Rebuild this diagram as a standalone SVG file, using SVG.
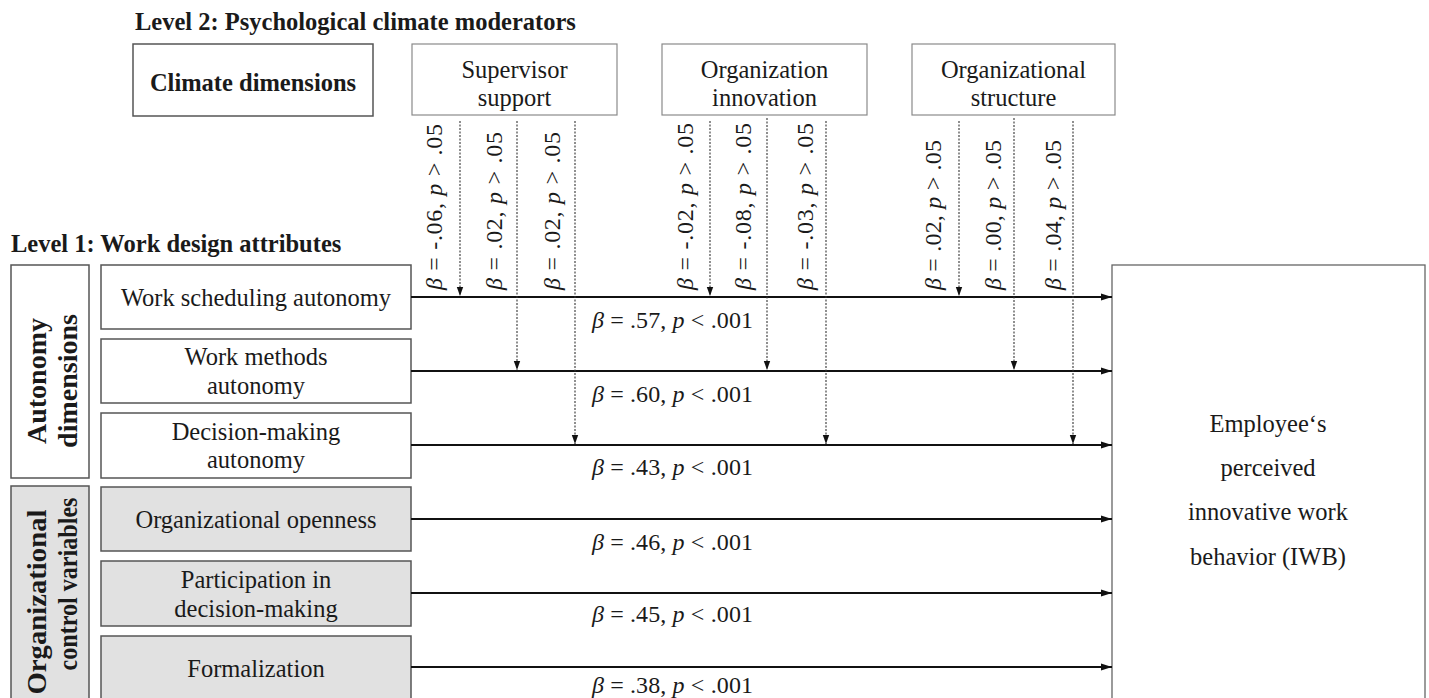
<svg xmlns="http://www.w3.org/2000/svg" width="1429" height="698" viewBox="0 0 1429 698">
<style>
text{font-family:"Liberation Serif","Times New Roman",serif;fill:#1a1a1a}
.h{font-size:24.5px;font-weight:bold}
.t{font-size:24.5px;text-anchor:middle}
.rb{font-size:28px;font-weight:bold;text-anchor:middle}
.b{font-size:24px}
.box{fill:#fff;stroke:#555;stroke-width:1.5}
.gbox{fill:#e1e1e1;stroke:#555;stroke-width:1.5}
.tbox{fill:#fff;stroke:#8a8a8a;stroke-width:1.2}
.main{stroke:#111;stroke-width:2.2;fill:none;marker-end:url(#ah)}
.mod{stroke:#333;stroke-width:1.1;stroke-dasharray:2 1.5;fill:none;marker-end:url(#ahs)}
.it{font-style:italic}
</style>
<defs>
<marker id="ah" markerUnits="userSpaceOnUse" markerWidth="12" markerHeight="8" refX="11" refY="4" orient="auto"><path d="M0,0.5 L11,4 L0,7.5 z" fill="#111"/></marker>
<marker id="ahs" markerUnits="userSpaceOnUse" markerWidth="10" markerHeight="8" refX="9" refY="4" orient="auto"><path d="M0,0.8 L9,4 L0,7.2 z" fill="#111"/></marker>
</defs>
<rect width="1429" height="698" fill="#fff"/>

<text class="h" x="135" y="30">Level 2: Psychological climate moderators</text>
<text class="h" x="11" y="252" font-size="24">Level 1: Work design attributes</text>

<g id="climate-dimensions">
<rect class="box" x="133" y="44" width="240" height="72"/>
<text class="h" x="253" y="91" text-anchor="middle" font-size="25">Climate dimensions</text>
</g>
<g id="supervisor-support">
<rect class="tbox" x="412" y="44" width="205" height="71"/>
<text class="t" x="514.5" y="78">Supervisor</text>
<text class="t" x="514.5" y="106">support</text>
</g>
<g id="organization-innovation">
<rect class="tbox" x="662" y="44" width="205" height="71"/>
<text class="t" x="764.5" y="78">Organization</text>
<text class="t" x="764.5" y="106">innovation</text>
</g>
<g id="organizational-structure">
<rect class="tbox" x="912" y="44" width="203" height="71"/>
<text class="t" x="1013.5" y="78">Organizational</text>
<text class="t" x="1013.5" y="106">structure</text>
</g>

<g id="autonomy-dimensions">
<rect class="box" x="11" y="265" width="78" height="213"/>
<text class="rb" transform="translate(46,381) rotate(-90)">Autonomy</text>
<text class="rb" transform="translate(77,381) rotate(-90)">dimensions</text>
</g>
<g id="organizational-control-variables">
<rect class="gbox" x="11" y="486" width="78" height="230"/>
<text class="rb" transform="translate(46,602) rotate(-90)" textLength="185" lengthAdjust="spacingAndGlyphs">Organizational</text>
<text class="rb" transform="translate(77,584) rotate(-90)" textLength="173" lengthAdjust="spacingAndGlyphs">control variables</text>
</g>

<g id="work-scheduling-autonomy">
<rect class="box" x="101" y="265" width="310" height="64"/>
<text class="t" x="256" y="306">Work scheduling autonomy</text>
</g>
<g id="work-methods-autonomy">
<rect class="box" x="101" y="339" width="310" height="64"/>
<text class="t" x="256" y="365">Work methods</text>
<text class="t" x="256" y="394">autonomy</text>
</g>
<g id="decision-making-autonomy">
<rect class="box" x="101" y="413" width="310" height="65"/>
<text class="t" x="256" y="440">Decision-making</text>
<text class="t" x="256" y="468">autonomy</text>
</g>
<g id="organizational-openness">
<rect class="gbox" x="101" y="487" width="310" height="64"/>
<text class="t" x="256" y="528">Organizational openness</text>
</g>
<g id="participation">
<rect class="gbox" x="101" y="561" width="310" height="65"/>
<text class="t" x="256" y="588">Participation in</text>
<text class="t" x="256" y="617">decision-making</text>
</g>
<g id="formalization">
<rect class="gbox" x="101" y="636" width="310" height="80"/>
<text class="t" x="256" y="677">Formalization</text>
</g>

<g id="iwb">
<rect x="1112" y="265" width="313" height="450" fill="#fff" stroke="#666" stroke-width="1.3"/>
<text class="t" x="1268" y="432">Employee‘s</text>
<text class="t" x="1268" y="476">perceived</text>
<text class="t" x="1268" y="520">innovative work</text>
<text class="t" x="1268" y="565">behavior (IWB)</text>
</g>

<g id="connectors">
<line class="main" x1="411" y1="297" x2="1112" y2="297"/>
<line class="main" x1="411" y1="371" x2="1112" y2="371"/>
<line class="main" x1="411" y1="445" x2="1112" y2="445"/>
<line class="main" x1="411" y1="519" x2="1112" y2="519"/>
<line class="main" x1="411" y1="593" x2="1112" y2="593"/>
<line class="main" x1="411" y1="667" x2="1112" y2="667"/>

<line class="mod" x1="460" y1="121" x2="460" y2="296"/>
<line class="mod" x1="517" y1="121" x2="517" y2="370"/>
<line class="mod" x1="575" y1="121" x2="575" y2="444"/>
<line class="mod" x1="710" y1="121" x2="710" y2="296"/>
<line class="mod" x1="767" y1="118" x2="767" y2="370"/>
<line class="mod" x1="826" y1="121" x2="826" y2="444"/>
<line class="mod" x1="959" y1="121" x2="959" y2="296"/>
<line class="mod" x1="1014" y1="118" x2="1014" y2="370"/>
<line class="mod" x1="1073" y1="121" x2="1073" y2="444"/>
</g>

<g id="moderator-labels" class="b" xml:space="preserve">
<text transform="translate(442,290) rotate(-90)" textLength="166" lengthAdjust="spacing"><tspan class="it">β</tspan> = -.06,  <tspan class="it">p</tspan> &gt; .05</text>
<text transform="translate(502,290) rotate(-90)" textLength="158" lengthAdjust="spacing"><tspan class="it">β</tspan> = .02,  <tspan class="it">p</tspan> &gt; .05</text>
<text transform="translate(560,290) rotate(-90)" textLength="158" lengthAdjust="spacing"><tspan class="it">β</tspan> = .02,  <tspan class="it">p</tspan> &gt; .05</text>
<text transform="translate(693,290) rotate(-90)" textLength="167" lengthAdjust="spacing"><tspan class="it">β</tspan> = -.02,  <tspan class="it">p</tspan> &gt; .05</text>
<text transform="translate(751,290) rotate(-90)" textLength="167" lengthAdjust="spacing"><tspan class="it">β</tspan> = -.08,  <tspan class="it">p</tspan> &gt; .05</text>
<text transform="translate(813,290) rotate(-90)" textLength="167" lengthAdjust="spacing"><tspan class="it">β</tspan> = -.03,  <tspan class="it">p</tspan> &gt; .05</text>
<text transform="translate(941,290) rotate(-90)" textLength="150" lengthAdjust="spacing"><tspan class="it">β</tspan> = .02, <tspan class="it">p</tspan> &gt; .05</text>
<text transform="translate(1001,290) rotate(-90)" textLength="150" lengthAdjust="spacing"><tspan class="it">β</tspan> = .00, <tspan class="it">p</tspan> &gt; .05</text>
<text transform="translate(1061,290) rotate(-90)" textLength="150" lengthAdjust="spacing"><tspan class="it">β</tspan> = .04, <tspan class="it">p</tspan> &gt; .05</text>
</g>

<g id="path-labels" class="b">
<text x="592" y="328" textLength="161" lengthAdjust="spacing"><tspan class="it">β</tspan> = .57, <tspan class="it">p</tspan> &lt; .001</text>
<text x="592" y="402" textLength="161" lengthAdjust="spacing"><tspan class="it">β</tspan> = .60, <tspan class="it">p</tspan> &lt; .001</text>
<text x="592" y="475" textLength="161" lengthAdjust="spacing"><tspan class="it">β</tspan> = .43, <tspan class="it">p</tspan> &lt; .001</text>
<text x="592" y="550" textLength="161" lengthAdjust="spacing"><tspan class="it">β</tspan> = .46, <tspan class="it">p</tspan> &lt; .001</text>
<text x="592" y="622" textLength="161" lengthAdjust="spacing"><tspan class="it">β</tspan> = .45, <tspan class="it">p</tspan> &lt; .001</text>
<text x="592" y="693" textLength="161" lengthAdjust="spacing"><tspan class="it">β</tspan> = .38, <tspan class="it">p</tspan> &lt; .001</text>
</g>
</svg>
